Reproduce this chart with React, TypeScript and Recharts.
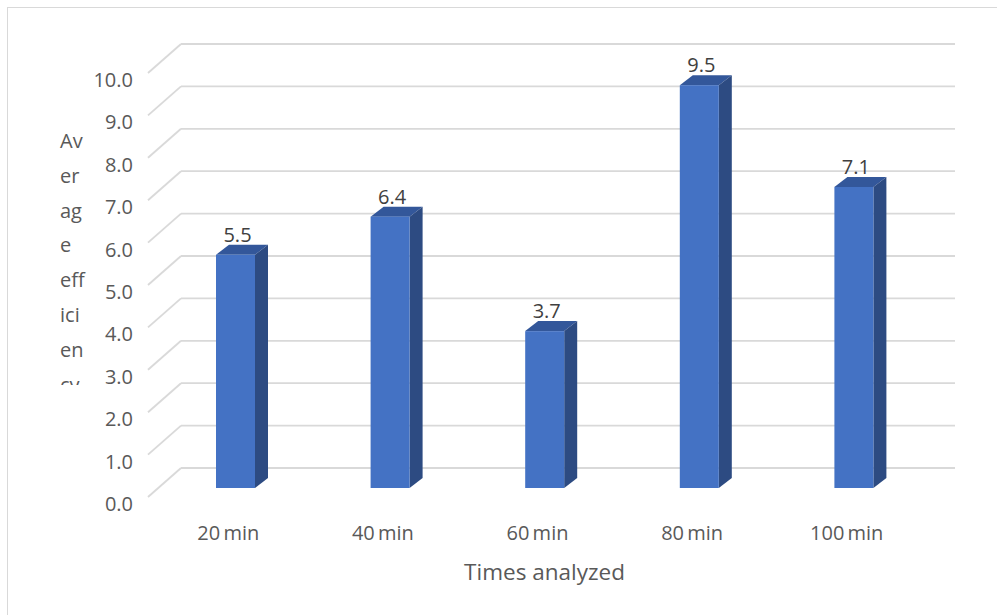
import React from 'react';
import { BarChart, Bar, XAxis, YAxis, CartesianGrid, LabelList, Label } from 'recharts';

const categories = ['20 min', '40 min', '60 min', '80 min', '100 min'];
const efficiency = [5.5, 6.4, 3.7, 9.5, 7.1];
const yTicks = [0, 1, 2, 3, 4, 5, 6, 7, 8, 9, 10];
const yTitleLines = ['Av', 'er', 'ag', 'e', 'eff', 'ici', 'en', 'cy'];
const xTitle = 'Times analyzed';

const data = categories.map((time, i) => ({ time, value: efficiency[i] }));

const FONT = '"Open Sans", "Noto Sans", sans-serif';
const GRID = '#d9d9d9';
// fake 3D depth: bars and the back wall sit behind the floor edge
const BAR_DX = 13;
const BAR_DY = 10;
const WALL_DX = 23;
const WALL_DY = 20;
const FLOOR_DX = 10;
const FLOOR_DY = 9;

const Bar3D = (props: any) => {
  const { x, y, width, height } = props;
  const front = '#4472c4';
  const side = '#2d4b82';
  const top = '#33579a';
  return (
    <g>
      <polygon
        points={`${x},${y} ${x + BAR_DX},${y - BAR_DY} ${x + width + BAR_DX},${y - BAR_DY} ${x + width},${y}`}
        fill={top}
      />
      <polygon
        points={`${x + width},${y} ${x + width + BAR_DX},${y - BAR_DY} ${x + width + BAR_DX},${y + height - BAR_DY} ${x + width},${y + height}`}
        fill={side}
      />
      <rect x={x} y={y} width={width} height={height} fill={front} />
    </g>
  );
};

const BackGridLine = (props: any) => {
  const { x1, y1, x2, y2, index } = props;
  return (
    <g key={`grid-${index}`}>
      <line x1={x1 + WALL_DX} y1={y1 - WALL_DY} x2={x2 + WALL_DX + 1} y2={y2 - WALL_DY} stroke={GRID} strokeWidth={1.8} />
      <line x1={x1 - FLOOR_DX} y1={y1 + FLOOR_DY} x2={x1 + WALL_DX} y2={y1 - WALL_DY} stroke={GRID} strokeWidth={1.8} />
    </g>
  );
};

const YTick = (props: any) => {
  const { x, y, payload } = props;
  return (
    <text x={x - 17} y={y + 23} textAnchor="end" fontFamily={FONT} fontSize={20} fill="#595959">
      {Number(payload.value).toFixed(1)}
    </text>
  );
};

const XTick = (props: any) => {
  const { x, y, payload } = props;
  return (
    <text
      x={x - 7}
      y={y + 44}
      textAnchor="middle"
      fontFamily={FONT}
      fontSize={20}
      wordSpacing={-2}
      fill="#595959"
    >
      {payload.value}
    </text>
  );
};

const ValueLabel = (props: any) => {
  const { x, y, width, value } = props;
  return (
    <text x={x + width / 2 + 2} y={y - 13} textAnchor="middle" fontFamily={FONT} fontSize={20} fill="#404040">
      {Number(value).toFixed(1)}
    </text>
  );
};

const YTitle = () => (
  <g>
    <defs>
      <clipPath id="ytitle-clip">
        <rect x={40} y={110} width={60} height={275} />
      </clipPath>
    </defs>
    <text fontFamily={FONT} fontSize={20} fill="#595959" clipPath="url(#ytitle-clip)">
      {yTitleLines.map((line, i) => (
        <tspan key={line} x={60} y={148 + i * 34.8}>
          {line}
        </tspan>
      ))}
    </text>
  </g>
);

const XTitle = (props: any) => {
  const { viewBox } = props;
  return (
    <text
      x={viewBox.x + viewBox.width / 2}
      y={viewBox.y + 92}
      textAnchor="middle"
      fontFamily={FONT}
      fontSize={22.5}
      fill="#595959"
    >
      {xTitle}
    </text>
  );
};

export default function App() {
  return (
    <div
      style={{
        position: 'absolute',
        left: 0,
        top: 0,
        width: 997,
        height: 615,
        overflow: 'hidden',
        background: '#fff',
      }}
    >
      <div
        style={{
          position: 'absolute',
          left: 7,
          top: 7,
          width: 1100,
          height: 700,
          border: `1.5px solid ${GRID}`,
        }}
      />
      <div style={{ position: 'absolute', left: 0, top: 0 }}>
        <BarChart
          width={997}
          height={615}
          data={data}
          margin={{ top: 64, right: 66, bottom: 67, left: 100 }}
        >
          <CartesianGrid vertical={false} horizontal={BackGridLine} />
          <YAxis
            width={58}
            domain={[0, 10]}
            ticks={yTicks}
            axisLine={false}
            tickLine={false}
            tick={YTick}
            interval={0}
          >
            <Label content={YTitle} />
          </YAxis>
          <XAxis
            dataKey="time"
            height={60}
            axisLine={false}
            tickLine={false}
            tick={XTick}
            interval={0}
          >
            <Label content={XTitle} />
          </XAxis>
          <Bar dataKey="value" barSize={39} shape={Bar3D} isAnimationActive={false}>
            <LabelList dataKey="value" content={ValueLabel} />
          </Bar>
        </BarChart>
      </div>
    </div>
  );
}
